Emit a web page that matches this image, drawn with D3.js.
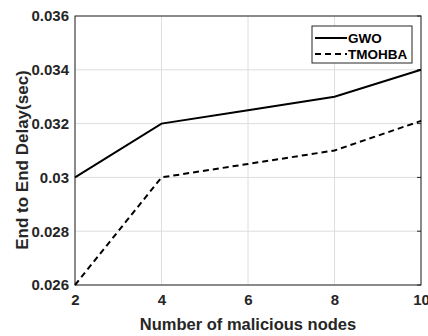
<!DOCTYPE html>
<html>
<head>
<meta charset="utf-8">
<script src="https://cdn.jsdelivr.net/npm/d3@7"></script>
<style>
  body { margin: 0; background: #fff; }
  svg { display: block; font-family: "Liberation Sans", Arial, sans-serif; }
</style>
</head>
<body>
<svg id="plot"></svg>
<script>
const nodes = [2, 4, 6, 8, 10];
const gwo = [0.030, 0.032, 0.0325, 0.033, 0.034];
const tmohba = [0.026, 0.030, 0.0305, 0.031, 0.0321];
const xTicks = [2, 4, 6, 8, 10];
const yTicks = [0.026, 0.028, 0.03, 0.032, 0.034, 0.036];

const svg = d3.select("#plot").attr("width", 428).attr("height", 336);

const margin = { top: 16, left: 75, right: 7, bottom: 51 };
const width = 428 - margin.left - margin.right;
const height = 336 - margin.top - margin.bottom;

const g = svg.append("g").attr("transform", `translate(${margin.left},${margin.top})`);

const xScale = d3.scaleLinear().domain([2, 10]).range([0, width]);
const yScale = d3.scaleLinear().domain([0.026, 0.036]).range([height, 0]);

// grid
g.append("g")
    .selectAll("line")
    .data(xTicks)
    .join("line")
    .attr("x1", (d) => xScale(d))
    .attr("x2", (d) => xScale(d))
    .attr("y1", 0)
    .attr("y2", height)
    .attr("stroke", "#dedede")
    .attr("stroke-width", 1);
g.append("g")
    .selectAll("line")
    .data(yTicks)
    .join("line")
    .attr("x1", 0)
    .attr("x2", width)
    .attr("y1", (d) => yScale(d))
    .attr("y2", (d) => yScale(d))
    .attr("stroke", "#dedede")
    .attr("stroke-width", 1);

// axes
const xAxis = d3.axisBottom(xScale).tickValues(xTicks).tickSize(0).tickPadding(9).tickFormat(d3.format("d"));
const yAxis = d3.axisLeft(yScale).tickValues(yTicks).tickSize(0).tickPadding(6).tickFormat((d) => String(+d.toFixed(3)));

const gx = g.append("g").attr("transform", `translate(0, ${height})`).call(xAxis);
const gy = g.append("g").call(yAxis);
[gx, gy].forEach((a) => {
    a.select(".domain").remove();
    a.selectAll("text")
        .attr("font-size", 15)
        .attr("font-weight", "bold")
        .attr("fill", "#262626")
        .attr("font-family", "Liberation Sans, Arial, sans-serif");
});

// box
g.append("rect")
    .attr("width", width)
    .attr("height", height)
    .attr("fill", "none")
    .attr("stroke", "#262626")
    .attr("stroke-width", 1);

// inner tick marks on the right
g.append("g")
    .selectAll("line")
    .data(yTicks)
    .join("line")
    .attr("x1", width - 4)
    .attr("x2", width)
    .attr("y1", (d) => yScale(d))
    .attr("y2", (d) => yScale(d))
    .attr("stroke", "#262626");

const line = d3.line().x((d) => xScale(d[0])).y((d) => yScale(d[1]));

g.append("path")
    .datum(nodes.map((n, i) => [n, gwo[i]]))
    .attr("d", line)
    .attr("fill", "none")
    .attr("stroke", "#000")
    .attr("stroke-width", 2);

g.append("path")
    .datum(nodes.map((n, i) => [n, tmohba[i]]))
    .attr("d", line)
    .attr("fill", "none")
    .attr("stroke", "#000")
    .attr("stroke-width", 2)
    .attr("stroke-dasharray", "6,4");

// legend
const legend = svg.append("g").attr("transform", "translate(312,26)");
legend.append("rect")
    .attr("width", 100)
    .attr("height", 37)
    .attr("fill", "#fff")
    .attr("stroke", "#262626")
    .attr("stroke-width", 1);
const items = [
    { name: "GWO", dash: null },
    { name: "TMOHBA", dash: "6,4" }
];
items.forEach((it, i) => {
    const y = 12 + i * 16;
    legend.append("line")
        .attr("x1", 3)
        .attr("x2", 35)
        .attr("y1", y)
        .attr("y2", y)
        .attr("stroke", "#000")
        .attr("stroke-width", 2)
        .attr("stroke-dasharray", it.dash);
    legend.append("text")
        .attr("x", 36)
        .attr("y", y + 5)
        .attr("font-size", 13.5)
        .attr("font-weight", "bold")
        .attr("fill", "#000")
        .text(it.name);
});

// labels
svg.append("text")
    .attr("x", 248)
    .attr("y", 330)
    .attr("text-anchor", "middle")
    .attr("font-size", 16.5)
    .attr("font-weight", "bold")
    .attr("fill", "#262626")
    .text("Number of malicious nodes");

svg.append("text")
    .attr("transform", "translate(28, 160) rotate(-90)")
    .attr("text-anchor", "middle")
    .attr("font-size", 17)
    .attr("font-weight", "bold")
    .attr("fill", "#262626")
    .text("End to End Delay(sec)");
</script>
</body>
</html>
